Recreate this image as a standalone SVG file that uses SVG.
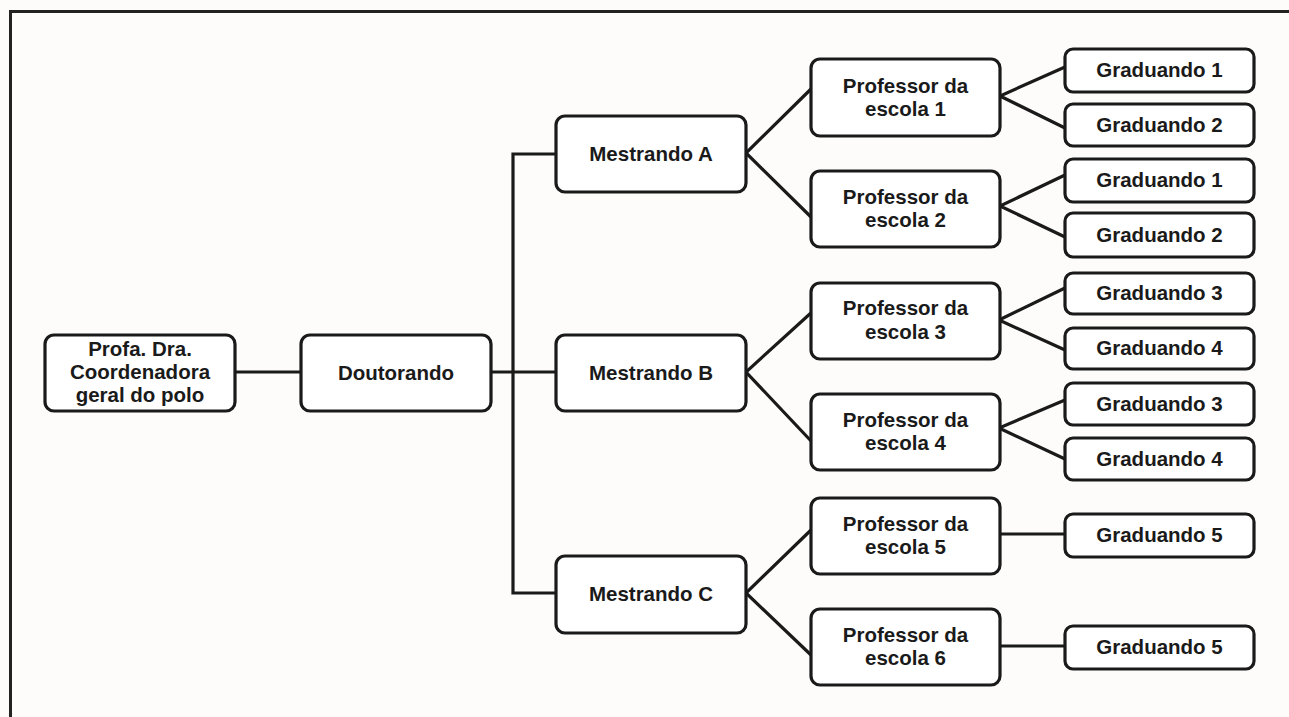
<svg xmlns="http://www.w3.org/2000/svg" width="1289" height="717" viewBox="0 0 1289 717">
<style>
.bg{fill:#fdfcfb}
.frame{fill:none;stroke:#222;stroke-width:3}
.box{fill:#fff;stroke:#1a1a1a;stroke-width:3.2}
.t{font-family:"Liberation Sans",Arial,sans-serif;font-weight:bold;font-size:20.5px;fill:#1a1a1a;text-anchor:middle}
.c{fill:none;stroke:#1a1a1a;stroke-width:3.2;stroke-linejoin:miter}
</style>
<rect class="bg" x="0" y="0" width="1289" height="717"/>
<path class="frame" d="M1289 11.5 H10.5 V717"/>
<g id="connectors">
<path class="c" d="M235 372 H301"/>
<path class="c" d="M491 372 H556"/>
<path class="c" d="M556 154 H513 V593 H556"/>
<path class="c" d="M811 89 L746 153 L811 217"/>
<path class="c" d="M812 312 L746 372 L812 442"/>
<path class="c" d="M811 530 L746 593 L811 655"/>
<path class="c" d="M1065 67 L1000 96 L1065 128"/>
<path class="c" d="M1065 175 L1000 206 L1065 237"/>
<path class="c" d="M1065 288 L999 320 L1065 350"/>
<path class="c" d="M1065 400 L999 428 L1065 459"/>
<path class="c" d="M1000 534 H1065"/>
<path class="c" d="M1000 646 H1065"/>
</g>
<g id="n-coord">
<rect class="box" x="45" y="335" width="190" height="76" rx="9"/>
<text class="t" x="140" y="356">Profa. Dra.</text>
<text class="t" x="140" y="379">Coordenadora</text>
<text class="t" x="140" y="402">geral do polo</text>
</g>
<g id="n-dout">
<rect class="box" x="301" y="335" width="190" height="76" rx="9"/>
<text class="t" x="396" y="380">Doutorando</text>
</g>
<g id="n-mA">
<rect class="box" x="556" y="116" width="190" height="76" rx="9"/>
<text class="t" x="651" y="161">Mestrando A</text>
</g>
<g id="n-mB">
<rect class="box" x="556" y="335" width="190" height="76" rx="9"/>
<text class="t" x="651" y="380">Mestrando B</text>
</g>
<g id="n-mC">
<rect class="box" x="556" y="556" width="190" height="77" rx="9"/>
<text class="t" x="651" y="601">Mestrando C</text>
</g>
<g id="n-p1">
<rect class="box" x="811" y="59" width="189" height="77" rx="9"/>
<text class="t" x="905.5" y="93">Professor da</text>
<text class="t" x="905.5" y="116">escola 1</text>
</g>
<g id="n-p2">
<rect class="box" x="811" y="171" width="189" height="76" rx="9"/>
<text class="t" x="905.5" y="204">Professor da</text>
<text class="t" x="905.5" y="227">escola 2</text>
</g>
<g id="n-p3">
<rect class="box" x="811" y="283" width="189" height="76" rx="9"/>
<text class="t" x="905.5" y="315">Professor da</text>
<text class="t" x="905.5" y="339">escola 3</text>
</g>
<g id="n-p4">
<rect class="box" x="811" y="394" width="189" height="76" rx="9"/>
<text class="t" x="905.5" y="427">Professor da</text>
<text class="t" x="905.5" y="450">escola 4</text>
</g>
<g id="n-p5">
<rect class="box" x="811" y="498" width="189" height="76" rx="9"/>
<text class="t" x="905.5" y="531">Professor da</text>
<text class="t" x="905.5" y="554">escola 5</text>
</g>
<g id="n-p6">
<rect class="box" x="811" y="609" width="189" height="76" rx="9"/>
<text class="t" x="905.5" y="642">Professor da</text>
<text class="t" x="905.5" y="665">escola 6</text>
</g>
<g id="n-g1a">
<rect class="box" x="1065" y="49" width="189" height="43" rx="8"/>
<text class="t" x="1159.5" y="77">Graduando 1</text>
</g>
<g id="n-g2a">
<rect class="box" x="1065" y="104" width="189" height="42" rx="8"/>
<text class="t" x="1159.5" y="132">Graduando 2</text>
</g>
<g id="n-g1b">
<rect class="box" x="1065" y="159" width="189" height="43" rx="8"/>
<text class="t" x="1159.5" y="187">Graduando 1</text>
</g>
<g id="n-g2b">
<rect class="box" x="1065" y="213" width="189" height="44" rx="8"/>
<text class="t" x="1159.5" y="242">Graduando 2</text>
</g>
<g id="n-g3a">
<rect class="box" x="1065" y="273" width="189" height="41" rx="8"/>
<text class="t" x="1159.5" y="300">Graduando 3</text>
</g>
<g id="n-g4a">
<rect class="box" x="1065" y="328" width="189" height="41" rx="8"/>
<text class="t" x="1159.5" y="355">Graduando 4</text>
</g>
<g id="n-g3b">
<rect class="box" x="1065" y="383" width="189" height="42" rx="8"/>
<text class="t" x="1159.5" y="411">Graduando 3</text>
</g>
<g id="n-g4b">
<rect class="box" x="1065" y="438" width="189" height="42" rx="8"/>
<text class="t" x="1159.5" y="466">Graduando 4</text>
</g>
<g id="n-g5a">
<rect class="box" x="1065" y="514" width="189" height="43" rx="8"/>
<text class="t" x="1159.5" y="542">Graduando 5</text>
</g>
<g id="n-g5b">
<rect class="box" x="1065" y="626" width="189" height="43" rx="8"/>
<text class="t" x="1159.5" y="654">Graduando 5</text>
</g>
</svg>
